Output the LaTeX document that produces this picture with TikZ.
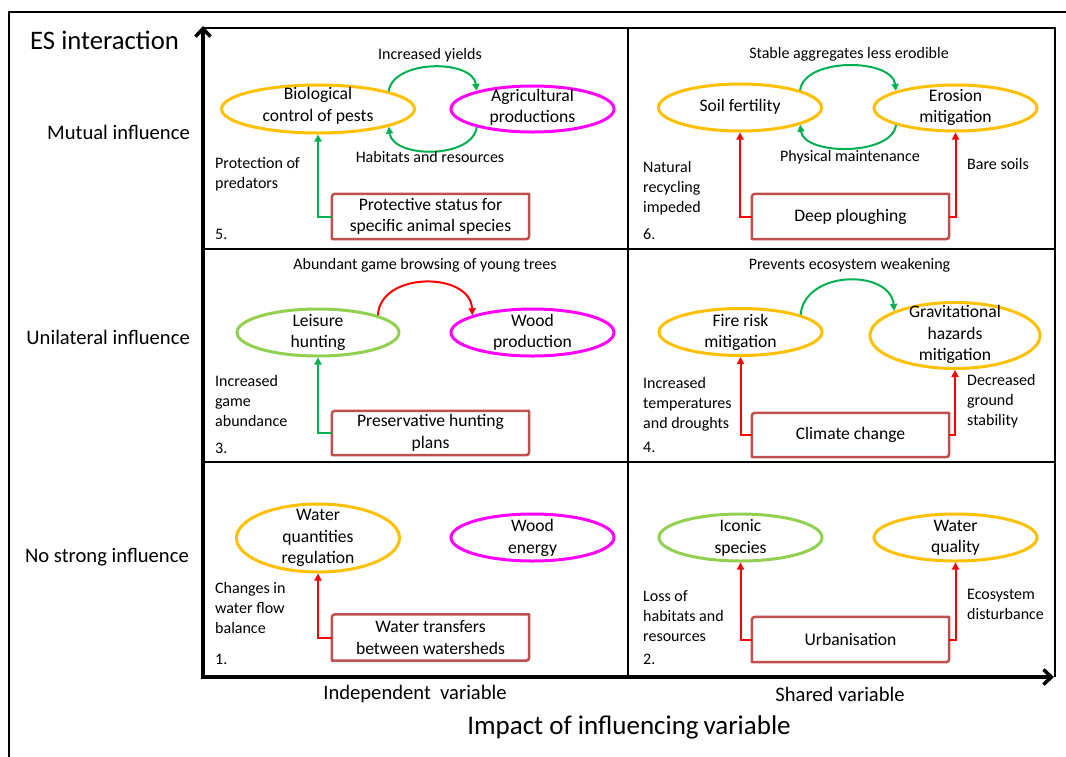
\documentclass[tikz,border=0pt]{standalone}
\usepackage{fontspec}
\setmainfont{Carlito}
\usetikzlibrary{arrows.meta,shapes.geometric}

\definecolor{esorange}{HTML}{FFC000}
\definecolor{esmagenta}{HTML}{FF00FF}
\definecolor{eslight}{HTML}{92D050}
\definecolor{esgreen}{HTML}{00B050}
\definecolor{esred}{HTML}{FF0000}
\definecolor{esbox}{HTML}{C0504D}

\newcommand\esLbl{\fontsize{16}{20}\selectfont}
\newcommand\esNode{\fontsize{17.6}{21.5}\selectfont}
\newcommand\esRow{\fontsize{20.6}{24}\selectfont}
\newcommand\esTitle{\fontsize{26.7}{30}\selectfont}
\newcommand\esAxis{\fontsize{27}{31}\selectfont}

% outline of an action box: top-left and bottom-right corners rounded
\newcommand\esBoxOutline[1]{%
  \draw[boxline] (#1.south west) -- ([yshift=-7pt]#1.north west)
    .. controls (#1.north west) .. ([xshift=7pt]#1.north west)
    -- (#1.north east) -- ([yshift=7pt]#1.south east)
    .. controls (#1.south east) .. ([xshift=-7pt]#1.south east) -- cycle;}

\tikzset{
  es/.style={ellipse, draw=#1, line width=3pt, inner sep=0pt},
  etext/.style={inner sep=0pt, font=\esNode, align=center},
  lbl/.style={inner sep=0pt, font=\esLbl, align=left, anchor=west},
  clbl/.style={inner sep=0pt, font=\esLbl, align=center},
  rowlbl/.style={inner sep=0pt, font=\esRow, anchor=east},
  actbox/.style={rectangle, inner sep=0pt, minimum width=197pt,
    minimum height=45pt, font=\esNode, align=center},
  boxline/.style={draw=esbox, line width=2.5pt, line join=round},
  posarrow/.style={draw=esgreen, line width=2pt, -{Triangle[length=7pt,width=7pt]}},
  negarrow/.style={draw=esred, line width=2pt, -{Triangle[length=7pt,width=7pt]}},
  gridline/.style={draw=black, line width=1.3pt},
  axisline/.style={draw=black, line width=3.5pt,
    {Straight Barb[length=8pt,width=15pt]}-{Straight Barb[length=8pt,width=15pt]}},
}

\begin{document}
\begin{tikzpicture}[x=1pt,y=-1pt]
\useasboundingbox (0,0) rectangle (1066,756);
\clip (0,0) rectangle (1066,756);
\fill[white] (0,0) rectangle (1066,756);

% outer frame
\draw[line width=2pt] (1080,11.5) -- (8.5,11.5) -- (8.5,770);

% grid of the six panels
\draw[gridline] (203,28) -- (1055,28) -- (1055,677);
\draw[gridline] (203,249) -- (1055,249);
\draw[gridline] (203,462) -- (1055,462);
\draw[gridline] (628,28) -- (628,677);

% axes
\draw[axisline] (203,26) -- (203,677) -- (1054,677);

% axis titles and row / column labels
\node[inner sep=0pt, font=\esTitle, anchor=west] (ytitle) at (30,40) {ES interaction};
\node[rowlbl] (rowmut) at (190,132) {Mutual influence};
\node[rowlbl] (rowuni) at (190,337) {Unilateral influence};
\node[rowlbl] (rowno) at (189,557) {No strong influence};
\node[inner sep=0pt, font=\esRow] (colind) at (415,694) {Independent\hspace{0.45em}variable};
\node[inner sep=0pt, font=\esRow] (colsh) at (840,694) {Shared variable};
\node[inner sep=0pt, font=\esAxis] (xtitle) at (629,727) {Impact of influencing\hspace{0.18em}variable};

% ---------- panel 5: mutual influence, independent variable ----------
\node[clbl] (t5a) at (430,55) {Increased yields};
\node[es=esorange, minimum width=193pt, minimum height=48pt] (bio) at (318,109) {};
\node[etext] (biot) at (318,106) {Biological\\control of pests};
\node[es=esmagenta, minimum width=163pt, minimum height=46pt] (agri) at (532.5,109) {};
\node[etext] (agrit) at (532.5,107.5) {Agricultural\\productions};
\draw[posarrow] (bio.14) .. controls +(4,-32) and +(-4,-32) .. (agri.162);
\draw[posarrow] (agri.198) .. controls +(-4,32) and +(4,32) .. (bio.346);
\node[clbl] (t5b) at (430,157) {Habitats and resources};
\node[lbl] (t5c) at (215,174.5) {Protection of\\predators};
\node[actbox] (pbox) at (430.5,216.5) {Protective status for\\specific animal species};
\esBoxOutline{pbox}
\draw[posarrow] (pbox.west) -| (bio.south);
\node[lbl] (n5) at (215,234) {5.};

% ---------- panel 6: mutual influence, shared variable ----------
\node[clbl] (t6a) at (849,54) {Stable aggregates less erodible};
\node[es=esorange, minimum width=163pt, minimum height=47pt] (soil) at (740,107.5) {};
\node[etext] (soilt) at (740,107) {Soil fertility};
\node[es=esorange, minimum width=163pt, minimum height=46pt] (ero) at (955.5,108) {};
\node[etext] (erot) at (955.5,107.5) {Erosion\\mitigation};
\draw[posarrow] (soil.16) .. controls +(4,-33) and +(-4,-33) .. (ero.164);
\draw[posarrow] (ero.196) .. controls +(-4,31) and +(4,31) .. (soil.344);
\node[clbl] (t6b) at (850,157) {Physical maintenance};
\node[lbl] (t6c) at (643,188) {Natural\\recycling\\impeded};
\node[lbl] (t6d) at (967,164) {Bare soils};
\node[actbox] (deep) at (850.5,216.5) {Deep ploughing};
\esBoxOutline{deep}
\draw[negarrow] (deep.west) -| (soil.south);
\draw[negarrow] (deep.east) -| (ero.south);
\node[lbl] (n6) at (643,234) {6.};

% ---------- panel 3: unilateral influence, independent variable ----------
\node[clbl] (t3a) at (425,265) {Abundant game browsing of young trees};
\node[es=eslight, minimum width=162pt, minimum height=47pt] (leis) at (318,332.5) {};
\node[etext] (leist) at (318,332.5) {Leisure\\hunting};
\node[es=esmagenta, minimum width=163pt, minimum height=47pt] (wood) at (532.5,332.5) {};
\node[etext] (woodt) at (532.5,332.5) {Wood\\production};
\draw[negarrow] (leis.16) .. controls +(2,-44) and +(-2,-44) .. (wood.164);
\node[lbl] (t3c) at (215,401) {Increased\\game\\abundance};
\node[actbox, minimum height=44pt] (pres) at (430.5,433) {Preservative hunting\\plans};
\esBoxOutline{pres}
\draw[posarrow] (pres.west) -| (leis.south);
\node[lbl] (n3) at (215,448) {3.};

% ---------- panel 4: unilateral influence, shared variable ----------
\node[clbl] (t4a) at (849.5,265) {Prevents ecosystem weakening};
\node[es=esorange, minimum width=163pt, minimum height=47pt] (fire) at (740.5,332) {};
\node[etext] (firet) at (740.5,332.5) {Fire risk\\mitigation};
\node[es=esorange, minimum width=170pt, minimum height=66pt] (grav) at (955,335.5) {};
\node[etext] (gravt) at (955,334.5) {Gravitational\\hazards\\mitigation};
\draw[posarrow] (fire.16) .. controls +(4,-45) and +(-4,-42) .. (grav.158);
\node[lbl] (t4c) at (643,404) {Increased\\temperatures\\and droughts};
\node[lbl] (t4d) at (967,401) {Decreased\\ground\\stability};
\node[actbox, minimum height=44pt] (clim) at (850.5,435) {Climate change};
\esBoxOutline{clim}
\draw[negarrow] (clim.west) -| (fire.south);
\draw[negarrow] (clim.east) -| (grav.south);
\node[lbl] (n4) at (643,447) {4.};

% ---------- panel 1: no strong influence, independent variable ----------
\node[es=esorange, minimum width=163pt, minimum height=68pt] (wq) at (318,538) {};
\node[etext] (wqt) at (318,538) {Water\\quantities\\regulation};
\node[es=esmagenta, minimum width=163pt, minimum height=47pt] (we) at (532.5,537.5) {};
\node[etext] (wet) at (532.5,538) {Wood\\energy};
\node[lbl] (t1c) at (215,608) {Changes in\\water flow\\balance};
\node[actbox, minimum height=46pt] (wt) at (430.5,637.5) {Water transfers\\between watersheds};
\esBoxOutline{wt}
\draw[negarrow] (wt.west) -| (wq.south);
\node[lbl] (n1) at (215,659) {1.};

% ---------- panel 2: no strong influence, shared variable ----------
\node[es=eslight, minimum width=163pt, minimum height=47pt] (ico) at (740.5,537.5) {};
\node[etext] (icot) at (740.5,538) {Iconic\\species};
\node[es=esorange, minimum width=163pt, minimum height=47pt] (wql) at (955.5,537.5) {};
\node[etext] (wqlt) at (955.5,538) {Water\\quality};
\node[lbl] (t2c) at (643,616) {Loss of\\habitats and\\resources};
\node[lbl] (t2d) at (967,604) {Ecosystem\\disturbance};
\node[actbox] (urb) at (850.5,639.5) {Urbanisation};
\esBoxOutline{urb}
\draw[negarrow] (urb.west) -| (ico.south);
\draw[negarrow] (urb.east) -| (wql.south);
\node[lbl] (n2) at (643,659) {2.};
\end{tikzpicture}
\end{document}
